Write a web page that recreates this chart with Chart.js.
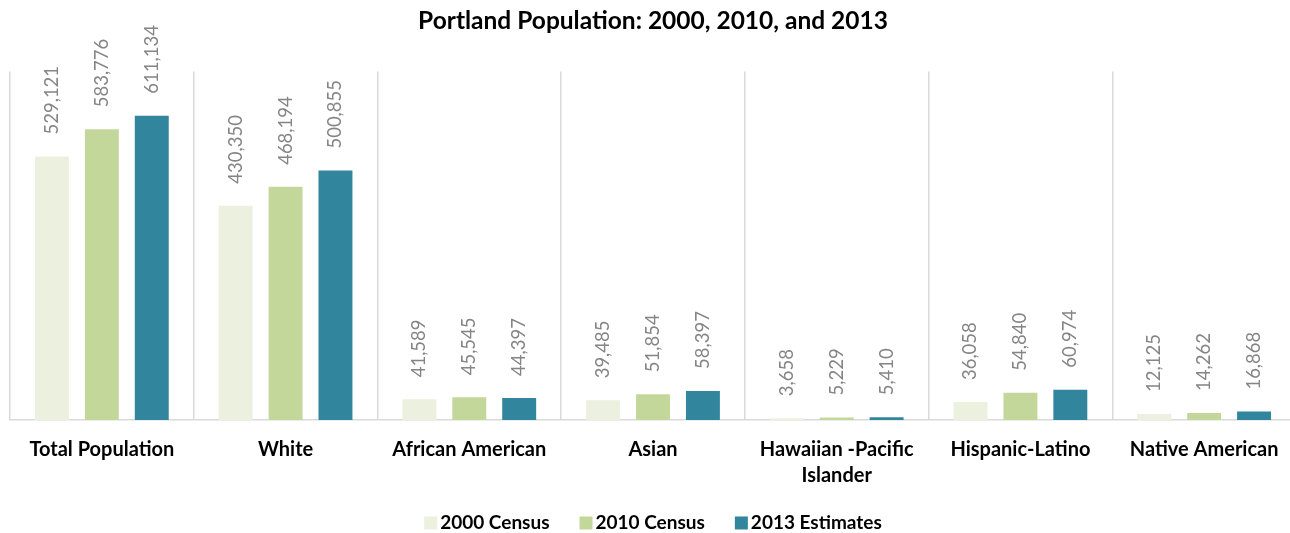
<!DOCTYPE html>
<html>
<head>
<meta charset="utf-8">
<script src="https://cdn.jsdelivr.net/npm/chart.js@4.4.1/dist/chart.umd.min.js"></script>
<style>
  html, body { margin: 0; padding: 0; background: #fff; overflow: hidden; }
  #wrap { position: relative; width: 1306px; height: 533px; }
</style>
</head>
<body>
<div id="wrap"><canvas id="c"></canvas></div>
<script>
// Population groups along the x axis
const categories = [
  'Total Population', 'White', 'African American', 'Asian',
  ['Hawaiian -Pacific', 'Islander'], 'Hispanic-Latino', 'Native American'
];
const seriesNames = ['2000 Census', '2010 Census', '2013 Estimates'];
const census2000 = [529121, 430350, 41589, 39485, 3658, 36058, 12125];
const census2010 = [583776, 468194, 45545, 51854, 5229, 54840, 14262];
const estimates2013 = [611134, 500855, 44397, 58397, 5410, 60974, 16868];
const seriesColors = ['#ebf1de', '#c4d79b', '#31859c'];

const FONT = 'Lato, "Open Sans", sans-serif';

// Rotated value labels above each bar
const valueLabels = {
  id: 'valueLabels',
  afterDatasetsDraw(chart) {
    const ctx = chart.ctx;
    ctx.save();
    ctx.fillStyle = '#858585';
    ctx.font = '18.5px ' + FONT;
    ctx.textAlign = 'left';
    ctx.textBaseline = 'middle';
    chart.data.datasets.forEach((ds, di) => {
      chart.getDatasetMeta(di).data.forEach((bar, i) => {
        const txt = ds.data[i].toLocaleString('en-US');
        ctx.save();
        ctx.translate(bar.x, bar.y - 22);
        ctx.rotate(-Math.PI / 2);
        ctx.fillText(txt, 0, 0);
        ctx.restore();
      });
    });
    ctx.restore();
  }
};

// Compact legend row along the bottom edge: square swatch, bold label
const bottomLegend = {
  id: 'bottomLegend',
  afterDraw(chart) {
    const ctx = chart.ctx;
    const box = 13, gapText = 3, gapItem = 30;
    ctx.save();
    ctx.font = 'bold 19px ' + FONT;
    ctx.textBaseline = 'middle';
    ctx.textAlign = 'left';
    const items = chart.data.datasets.map(ds => ({
      text: ds.label, color: ds.backgroundColor, w: ctx.measureText(ds.label).width
    }));
    const total = items.reduce((s, it) => s + box + gapText + it.w, 0) + gapItem * (items.length - 1);
    const cx = (chart.chartArea.left + chart.chartArea.right) / 2;
    let x = cx - total / 2;
    const y = 523;
    items.forEach(it => {
      ctx.fillStyle = it.color;
      ctx.fillRect(x, y - box / 2, box, box);
      x += box + gapText;
      ctx.fillStyle = '#000';
      ctx.fillText(it.text, x, y);
      x += it.w + gapItem;
    });
    ctx.restore();
  }
};

new Chart(document.getElementById('c'), {
  type: 'bar',
  data: {
    labels: categories,
    datasets: [census2000, census2010, estimates2013].map((vals, k) => ({
      label: seriesNames[k],
      data: vals,
      backgroundColor: seriesColors[k],
      borderWidth: 0,
      categoryPercentage: 0.815,
      barPercentage: 0.68
    }))
  },
  options: {
    responsive: true,
    maintainAspectRatio: false,
    animation: false,
    layout: { padding: { left: 10, right: 10, top: 6, bottom: 27 } },
    plugins: {
      title: {
        display: true,
        text: 'Portland Population: 2000, 2010, and 2013',
        color: '#000',
        font: { family: FONT, size: 24.5, weight: 'bold' },
        padding: { top: 0, bottom: 36 }
      },
      legend: { display: false },
      tooltip: { enabled: false }
    },
    scales: {
      x: {
        grid: { offset: true, color: '#d9d9d9', lineWidth: 1.5, drawTicks: false },
        border: { color: '#d9d9d9', width: 1.5 },
        ticks: {
          color: '#000',
          font: { family: FONT, size: 20, weight: 'bold', lineHeight: 1.3 },
          padding: 17,
          maxRotation: 0,
          autoSkip: false
        }
      },
      y: {
        display: false,
        min: 0,
        max: 700000
      }
    }
  },
  plugins: [valueLabels, bottomLegend]
});
</script>
</body>
</html>
